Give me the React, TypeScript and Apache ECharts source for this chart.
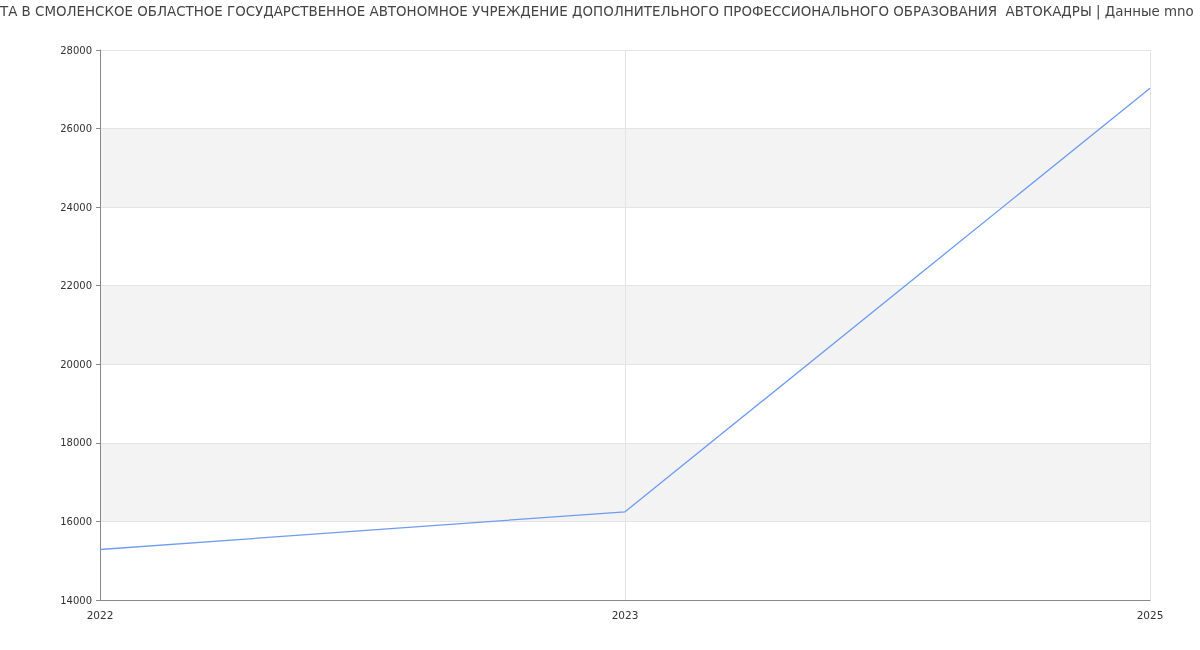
import React, { useEffect, useRef } from "react";
import * as echarts from "echarts";

const years = ["2022", "2023", "2025"];
const salary = [15285, 16245, 27025];
const titleText =
  "ТА В СМОЛЕНСКОЕ ОБЛАСТНОЕ ГОСУДАРСТВЕННОЕ АВТОНОМНОЕ УЧРЕЖДЕНИЕ ДОПОЛНИТЕЛЬНОГО ПРОФЕССИОНАЛЬНОГО ОБРАЗОВАНИЯ  АВТОКАДРЫ | Данные mno";

const App = () => {
  const chartRef = useRef<HTMLDivElement>(null);

  useEffect(() => {
    if (!chartRef.current) return;
    const chart = echarts.init(chartRef.current, null, { renderer: "svg" });

    chart.setOption({
      animation: false,
      textStyle: { fontFamily: "DejaVu Sans" },
      title: {
        text: titleText,
        left: 0,
        top: 5,
        padding: 0,
        textStyle: {
          fontFamily: "DejaVu Sans",
          fontSize: 13.4,
          fontWeight: "normal",
          color: "#444",
        },
      },
      grid: { left: 100, right: 50, top: 50, bottom: 50 },
      xAxis: {
        type: "category",
        data: years,
        boundaryGap: false,
        axisLine: { lineStyle: { color: "#888" } },
        axisTick: { show: false },
        axisLabel: { color: "#333", fontSize: 10.5, margin: 9 },
        splitLine: { show: true, lineStyle: { color: "#e4e4e4" } },
      },
      yAxis: {
        type: "value",
        min: 14000,
        max: 28000,
        interval: 2000,
        axisLine: { show: true, lineStyle: { color: "#888" } },
        axisTick: { show: true, length: 4, lineStyle: { color: "#888" } },
        axisLabel: {
          color: "#333",
          fontSize: 10,
          margin: 8,
          formatter: (v: number) => String(v),
        },
        splitLine: { lineStyle: { color: "#e4e4e4" } },
        splitArea: { show: true, areaStyle: { color: ["#ffffff", "#f3f3f3"] } },
      },
      series: [
        {
          type: "line",
          data: salary,
          symbol: "none",
          lineStyle: { color: "#6d9cf2", width: 1.3 },
        },
      ],
    });

    return () => {
      chart.dispose();
    };
  }, []);

  return (
    <div
      ref={chartRef}
      style={{ position: "fixed", left: 0, top: 0, width: "1200px", height: "650px" }}
    ></div>
  );
};

export default App;
